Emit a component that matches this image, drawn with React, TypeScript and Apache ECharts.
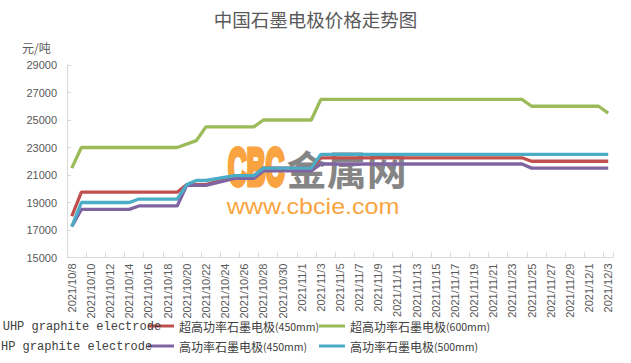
import React, { useEffect, useRef } from 'react';
import * as echarts from 'echarts';

const N = null;

const dates = [
  '2021/10/8', '2021/10/9', '2021/10/10',
  '2021/10/11', '2021/10/12', '2021/10/13', '2021/10/14', '2021/10/15', '2021/10/16', '2021/10/17',
  '2021/10/18', '2021/10/19', '2021/10/20', '2021/10/21', '2021/10/22', '2021/10/23', '2021/10/24',
  '2021/10/25', '2021/10/26', '2021/10/27', '2021/10/28', '2021/10/29', '2021/10/30', '2021/10/31',
  '2021/11/1', '2021/11/2', '2021/11/3', '2021/11/4', '2021/11/5', '2021/11/6', '2021/11/7',
  '2021/11/8', '2021/11/9', '2021/11/10', '2021/11/11', '2021/11/12', '2021/11/13', '2021/11/14',
  '2021/11/15', '2021/11/16', '2021/11/17', '2021/11/18', '2021/11/19', '2021/11/20', '2021/11/21',
  '2021/11/22', '2021/11/23', '2021/11/24', '2021/11/25', '2021/11/26', '2021/11/27', '2021/11/28',
  '2021/11/29', '2021/11/30', '2021/12/1', '2021/12/2', '2021/12/3',
];

const seriesNames = [
  '超高功率石墨电极(450mm)',
  '超高功率石墨电极(600mm)',
  '高功率石墨电极(450mm)',
  '高功率石墨电极(500mm)',
];

const uhp450 = [
  18000, 19750, N,
  19750, 19750, 19750, 19750, 19750, N, N,
  19750, 19750, 20300, 20300, 20300, N, N,
  20900, 20900, 20900, 21500, 21500, N, N,
  21500, 21500, 22250, 22250, 22250, N, N,
  22250, 22250, 22250, 22250, 22250, N, N,
  22250, 22250, 22250, 22250, 22250, N, N,
  22250, 22250, 22250, 22000, 22000, N, N,
  22000, 22000, 22000, 22000, 22000,
];

const uhp600 = [
  21500, 23000, N,
  23000, 23000, 23000, 23000, 23000, N, N,
  23000, 23000, N, 23500, 24500, N, N,
  24500, 24500, 24500, 25000, 25000, N, N,
  25000, 25000, 26500, 26500, 26500, N, N,
  26500, 26500, 26500, 26500, 26500, N, N,
  26500, 26500, 26500, 26500, 26500, N, N,
  26500, 26500, 26500, 26000, 26000, N, N,
  26000, 26000, 26000, 26000, 25500,
];

const hp450 = [
  17250, 18500, N,
  18500, 18500, 18500, 18500, 18750, N, N,
  18750, 18750, 20250, 20250, 20250, N, N,
  20750, 20750, 20750, 21300, 21300, N, N,
  21300, 21300, 21800, 21800, 21800, N, N,
  21800, 21800, 21800, 21800, 21800, N, N,
  21800, 21800, 21800, 21800, 21800, N, N,
  21800, 21800, 21800, 21500, 21500, N, N,
  21500, 21500, 21500, 21500, 21500,
];

const hp500 = [
  17250, 19000, N,
  19000, 19000, 19000, 19000, 19250, N, N,
  19250, 19250, 20300, 20600, 20600, N, N,
  20950, 20950, 20950, 21500, 21500, N, N,
  21500, 21500, 22500, 22500, 22500, N, N,
  22500, 22500, 22500, 22500, 22500, N, N,
  22500, 22500, 22500, 22500, 22500, N, N,
  22500, 22500, 22500, 22500, 22500, N, N,
  22500, 22500, 22500, 22500, 22500,
];

const colors = ['#C0504D', '#9BBB59', '#8064A2', '#4BACC6'];
const seriesData = [uhp450, uhp600, hp450, hp500];

const yTicks = { min: 15000, max: 29000, interval: 2000 };

export default function App() {
  const ref = useRef<HTMLDivElement>(null);

  useEffect(() => {
    if (!ref.current) return;
    const chart = echarts.init(ref.current, null, { renderer: 'svg' });
    const legendText = {
      fontSize: 12,
      color: '#404040',
      fontFamily: 'Noto Sans CJK SC',
      rich: {
        s: { fontSize: 10.5, color: '#404040', fontFamily: 'Noto Sans CJK SC' },
      },
    };
    const legendFormatter = (name: string) => name.replace(/\((.*)\)/, '{s|($1)}');
    const legendBase = {
      padding: 0,
      itemWidth: 26,
      itemHeight: 3,
      icon: 'rect',
      formatter: legendFormatter,
      textStyle: legendText,
    };
    const legendCols = [148, 319];
    const legendRows = [320, 340];
    chart.setOption({
      animation: false,
      backgroundColor: '#ffffff',
      color: colors,
      title: {
        text: '中国石墨电极价格走势图',
        left: 'center',
        top: 10,
        padding: 0,
        textStyle: {
          fontSize: 18.5,
          fontWeight: 'normal',
          color: '#595959',
          fontFamily: 'Noto Sans CJK SC',
        },
      },
      legend: seriesNames.map((name, i) => ({
        ...legendBase,
        data: [name],
        left: legendCols[i % 2],
        top: legendRows[Math.floor(i / 2)],
      })),
      grid: { left: 67, right: 18, top: 65, bottom: 105.5, containLabel: false },
      xAxis: {
        type: 'category',
        data: dates,
        boundaryGap: true,
        axisLine: { show: true, lineStyle: { color: '#D9D9D9', width: 1 } },
        axisTick: { show: true, inside: true, length: 5, interval: 1, lineStyle: { color: '#D9D9D9' } },
        axisLabel: {
          interval: 1,
          rotate: 90,
          margin: 6,
          fontSize: 11,
          color: '#595959',
          fontFamily: 'Liberation Sans',
        },
        splitLine: { show: false },
      },
      yAxis: {
        type: 'value',
        min: yTicks.min,
        max: yTicks.max,
        interval: yTicks.interval,
        axisLine: { show: true, lineStyle: { color: '#D9D9D9', width: 1 } },
        axisTick: { show: true, inside: true, length: 4, lineStyle: { color: '#D9D9D9' } },
        axisLabel: {
          fontSize: 11,
          color: '#595959',
          margin: 10,
          fontFamily: 'Liberation Sans',
          formatter: (v: number) => String(v),
        },
        splitLine: { show: false },
      },
      graphic: [
        {
          type: 'text',
          x: 22,
          y: 47,
          z: 0,
          style: {
            text: '元/吨',
            fontSize: 12,
            fontFamily: 'Noto Sans CJK SC',
            fill: '#595959',
            textVerticalAlign: 'middle',
          },
        },
        {
          type: 'text',
          x: 228,
          y: 167.5,
          scaleX: 0.5,
          z: 0,
          silent: true,
          style: {
            text: 'CBC',
            font: 'bold 52px "Liberation Sans"',
            fill: '#F9A440',
            stroke: '#F9A440',
            lineWidth: 5,
            textVerticalAlign: 'middle',
          },
        },
        {
          type: 'text',
          x: 286.7,
          y: 167.5,
          z: 0,
          silent: true,
          style: {
            text: '金属网',
            font: 'bold 40px "Noto Sans CJK SC"',
            fill: '#858585',
            textVerticalAlign: 'middle',
          },
        },
        {
          type: 'text',
          x: 226.7,
          y: 206.7,
          scaleX: 1.14,
          z: 0,
          silent: true,
          style: {
            text: 'www.cbcie.com',
            font: '22px "Liberation Sans"',
            fill: '#F9A440',
            textVerticalAlign: 'middle',
          },
        },
        {
          type: 'text',
          x: 2.7,
          y: 327,
          z: 10,
          style: {
            text: 'UHP graphite electrode',
            font: '12px "Liberation Mono"',
            fill: '#404040',
            textVerticalAlign: 'middle',
          },
        },
        {
          type: 'text',
          x: 1,
          y: 346.5,
          z: 10,
          style: {
            text: 'HP graphite electrode',
            font: '12px "Liberation Mono"',
            fill: '#404040',
            textVerticalAlign: 'middle',
          },
        },
      ],
      series: seriesData.map((d, i) => ({
        name: seriesNames[i],
        type: 'line',
        data: d,
        showSymbol: false,
        symbol: 'none',
        connectNulls: true,
        z: 2 + i,
        lineStyle: { width: 3.3, color: colors[i] },
        itemStyle: { color: colors[i] },
      })),
    });
    return () => chart.dispose();
  }, []);

  return (
    <div
      ref={ref}
      style={{ position: 'absolute', left: 0, top: 0, width: 631, height: 363, background: '#fff' }}
    />
  );
}
